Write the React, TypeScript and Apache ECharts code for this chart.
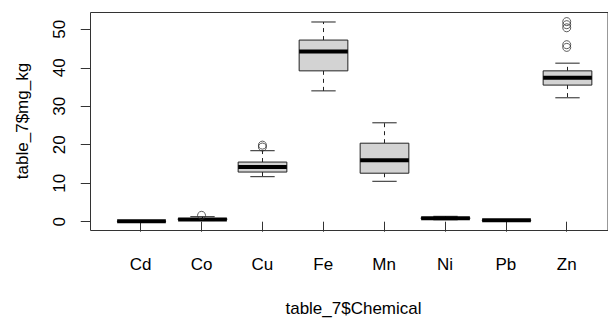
import React, { useEffect, useRef } from 'react';
import * as echarts from 'echarts';

// Chemicals (x categories)
const categories = ['Cd', 'Co', 'Cu', 'Fe', 'Mn', 'Ni', 'Pb', 'Zn'];
// Box statistics (mg/kg)
const whiskerLow = [0.05, 0.3, 11.7, 34.0, 10.5, 0.5, 0.2, 32.2];
const quartile1 = [0.08, 0.5, 12.9, 39.2, 12.6, 0.75, 0.3, 35.5];
const medians = [0.1, 0.6, 14.2, 44.2, 16.0, 0.9, 0.35, 37.4];
const quartile3 = [0.13, 0.8, 15.5, 47.2, 20.4, 1.05, 0.45, 39.2];
const whiskerHigh = [0.2, 1.3, 18.45, 51.9, 25.7, 1.4, 0.55, 41.2];
// Outliers
const outlierChemicals = ['Co', 'Cu', 'Cu', 'Zn', 'Zn', 'Zn', 'Zn', 'Zn'];
const outlierValues = [1.65, 19.4, 19.9, 52.0, 51.2, 50.4, 46.0, 45.3];
// Y tick labels
const yTicks = [0, 10, 20, 30, 40, 50];

const FONT = "'Liberation Sans', Arial, sans-serif";
const FS = 17;

export default function App() {
  const ref = useRef<HTMLDivElement>(null);
  useEffect(() => {
    if (!ref.current) return;
    const chart = echarts.init(ref.current, null, { renderer: 'svg' });
    const boxData = categories.map((_, i) => [
      i, whiskerLow[i], quartile1[i], medians[i], quartile3[i], whiskerHigh[i],
    ]);
    const outData = outlierChemicals.map((c, i) => [categories.indexOf(c), outlierValues[i]]);
    chart.setOption({
      animation: false,
      backgroundColor: '#ffffff',
      grid: [
        { left: 110.25, right: 10.85, top: 29.3, bottom: 98.3 },
        {
          left: 90.5, right: -120, top: 12.5, bottom: 89.5,
          show: true, borderColor: '#333', borderWidth: 1, backgroundColor: 'transparent',
        },
      ],
      xAxis: [
        {
          type: 'category', gridIndex: 0, data: categories, boundaryGap: true,
          offset: 9,
          axisLine: { show: false },
          axisTick: { show: true, alignWithLabel: true, length: 10, lineStyle: { color: '#333' } },
          axisLabel: { interval: 0, margin: 25, color: '#000', fontSize: FS, fontFamily: FONT },
          splitLine: { show: false },
        },
        { type: 'value', gridIndex: 1, show: false, min: 0, max: 1 },
      ],
      yAxis: [
        {
          type: 'value', gridIndex: 0, min: yTicks[0], max: yTicks[yTicks.length - 1], interval: 10,
          offset: 19.5,
          axisLine: { show: false },
          axisTick: { show: true, length: 10, lineStyle: { color: '#333' } },
          axisLabel: { rotate: 90, margin: 23, color: '#000', fontSize: FS, fontFamily: FONT },
          splitLine: { show: false },
        },
        { type: 'value', gridIndex: 1, show: false, min: 0, max: 1 },
      ],
      series: [
        {
          type: 'custom',
          xAxisIndex: 0, yAxisIndex: 0,
          clip: false,
          encode: { x: 0, y: [1, 2, 3, 4, 5] },
          data: boxData,
          renderItem: (params: any, api: any) => {
            const x = api.value(0);
            const lo = api.coord([x, api.value(1)]);
            const b1 = api.coord([x, api.value(2)]);
            const md = api.coord([x, api.value(3)]);
            const b3 = api.coord([x, api.value(4)]);
            const hi = api.coord([x, api.value(5)]);
            const band = api.size([1, 0])[0];
            const bw = band * 0.8;
            const sw = bw / 2;
            const cx = Math.round(lo[0]) + 0.5;
            const stroke = '#222';
            return {
              type: 'group',
              children: [
                { type: 'line', shape: { x1: cx, y1: b3[1], x2: cx, y2: hi[1] }, style: { stroke, lineWidth: 1, lineDash: [4, 4] } },
                { type: 'line', shape: { x1: cx, y1: b1[1], x2: cx, y2: lo[1] }, style: { stroke, lineWidth: 1, lineDash: [4, 4] } },
                { type: 'line', shape: { x1: cx - sw / 2, y1: hi[1], x2: cx + sw / 2, y2: hi[1] }, style: { stroke, lineWidth: 1 } },
                { type: 'line', shape: { x1: cx - sw / 2, y1: lo[1], x2: cx + sw / 2, y2: lo[1] }, style: { stroke, lineWidth: 1 } },
                { type: 'rect', shape: { x: cx - bw / 2, y: b3[1], width: bw, height: b1[1] - b3[1] }, style: { fill: '#d3d3d3', stroke, lineWidth: 1 } },
                { type: 'line', shape: { x1: cx - bw / 2, y1: md[1], x2: cx + bw / 2, y2: md[1] }, style: { stroke: '#000', lineWidth: 4 } },
              ],
            };
          },
        },
        {
          type: 'scatter',
          xAxisIndex: 0, yAxisIndex: 0,
          clip: false,
          symbol: 'circle',
          symbolSize: 8,
          itemStyle: { color: 'transparent', borderColor: '#333', borderWidth: 1 },
          data: outData,
        },
      ],
      graphic: [
        {
          type: 'text', x: 353.5, y: 308,
          style: { text: 'table_7$Chemical', fontSize: FS, fontFamily: FONT, fill: '#000', align: 'center', verticalAlign: 'middle' },
        },
        {
          type: 'text', x: 22, y: 121, rotation: Math.PI / 2,
          style: { text: 'table_7$mg_kg', fontSize: FS, fontFamily: FONT, fill: '#000', align: 'center', verticalAlign: 'middle' },
        },
      ],
    });
    return () => chart.dispose();
  }, []);
  return <div ref={ref} style={{ position: 'absolute', left: 0, top: 0, width: 608, height: 320 }} />;
}
